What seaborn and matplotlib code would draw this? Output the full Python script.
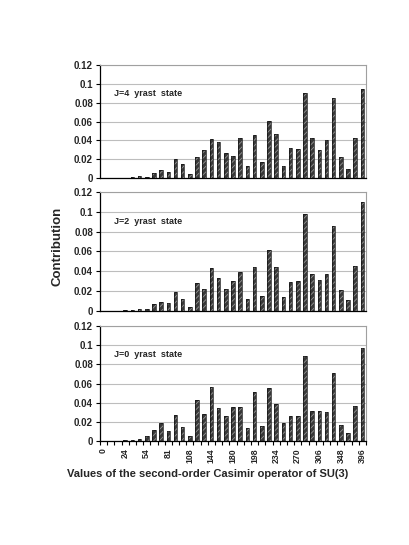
import matplotlib
matplotlib.use("Agg")
import matplotlib.pyplot as plt
import matplotlib.ticker as mticker
from matplotlib.patches import Rectangle
import seaborn as sns
import pandas as pd

sns.set_theme(style="white")
plt.rcParams["font.family"] = ["Liberation Sans", "DejaVu Sans"]
plt.rcParams["font.weight"] = "bold"
plt.rcParams["hatch.linewidth"] = 0.6

# Beiträge pro SU(3)-Darstellung (37 Kategorien, sortiert nach Casimir-Wert)
contrib_j4 = [0, 0, 0.0005, 0.0005, 0.001, 0.002, 0.001, 0.005, 0.009, 0.006,
              0.020, 0.015, 0.004, 0.022, 0.030, 0.041, 0.038, 0.027, 0.023, 0.043,
              0.013, 0.046, 0.017, 0.061, 0.047, 0.013, 0.032, 0.031, 0.090, 0.042,
              0.030, 0.040, 0.085, 0.022, 0.010, 0.043, 0.095]
contrib_j2 = [0, 0.0003, 0.0004, 0.0006, 0.001, 0.002, 0.002, 0.007, 0.009, 0.008,
              0.019, 0.012, 0.004, 0.028, 0.022, 0.043, 0.033, 0.022, 0.030, 0.039,
              0.012, 0.044, 0.015, 0.062, 0.044, 0.014, 0.029, 0.030, 0.098, 0.037,
              0.031, 0.037, 0.086, 0.021, 0.011, 0.045, 0.110]
contrib_j0 = [0, 0, 0.0003, 0.001, 0.001, 0.002, 0.005, 0.011, 0.019, 0.010,
              0.027, 0.015, 0.005, 0.043, 0.028, 0.056, 0.034, 0.026, 0.036, 0.035,
              0.014, 0.051, 0.016, 0.055, 0.039, 0.019, 0.026, 0.026, 0.089, 0.031,
              0.031, 0.030, 0.071, 0.017, 0.008, 0.037, 0.097]

# sichtbare Achsenbeschriftungen (jede dritte Kategorie)
casimir_labels = ["0", "24", "54", "81", "108", "144", "180", "198",
                  "234", "270", "306", "348", "396"]
label_step = 3

states = ["J=4  yrast  state", "J=2  yrast  state", "J=0  yrast  state"]
series = [contrib_j4, contrib_j2, contrib_j0]

frames = []
for name, vals in zip(states, series):
    frames.append(pd.DataFrame({"state": name, "idx": range(len(vals)), "contribution": vals}))
df = pd.concat(frames, ignore_index=True)
n_cat = len(contrib_j0)

fig = plt.figure(figsize=(4.09, 5.45), dpi=100)
boxes = [(0.2445, 0.6734, 0.6505, 0.2073),
         (0.2445, 0.4294, 0.6505, 0.2183),
         (0.2445, 0.1908, 0.6505, 0.2110)]

axes = []
for i, (name, box) in enumerate(zip(states, boxes)):
    ax = fig.add_axes(box)
    sub = df[df["state"] == name]
    sns.barplot(data=sub, x="idx", y="contribution", ax=ax, color="#383838",
                width=0.5, errorbar=None, saturation=1)
    for p in list(ax.patches):
        p.set_hatch("//////")
        p.set_edgecolor("#959595")
        p.set_linewidth(0)
        ax.add_patch(Rectangle(p.get_xy(), p.get_width(), p.get_height(),
                               fill=False, edgecolor="#111111", linewidth=0.5))

    ax.set_xlim(-0.5, n_cat - 0.5)
    ax.set_ylim(0, 0.12)
    ax.set_yticks([0, 0.02, 0.04, 0.06, 0.08, 0.1, 0.12])
    ax.yaxis.set_major_formatter(mticker.FuncFormatter(lambda v, _: f"{v:.2f}".rstrip("0").rstrip(".")))
    ax.grid(axis="y", color="#bdbdbd", linewidth=0.8)
    ax.set_axisbelow(True)
    ax.tick_params(axis="y", labelsize=7, length=3, width=0.8, color="black",
                   direction="out", left=True, pad=2)
    for s in ["top", "right"]:
        ax.spines[s].set_color("#a0a0a0")
        ax.spines[s].set_linewidth(0.8)
    for s in ["left", "bottom"]:
        ax.spines[s].set_color("black")
        ax.spines[s].set_linewidth(0.9)

    ax.set_xlabel("")
    ax.set_ylabel("")
    if i < 2:
        ax.set_xticks([])
    else:
        ax.set_xticks(range(0, n_cat, label_step))
        ax.set_xticklabels(casimir_labels, rotation=90, fontsize=6.3)
        ax.set_xticks([k - 0.5 for k in range(n_cat + 1)], minor=True)
        ax.tick_params(axis="x", which="major", length=0, pad=5)
        ax.tick_params(axis="x", which="minor", length=3, width=0.8,
                       color="black", direction="out", bottom=True)
    ax.text(0.054, 0.09, name, transform=ax.get_yaxis_transform(),
            fontsize=6.5, fontweight="bold", ha="left", va="center")
    axes.append(ax)

fig.text(0.141, 0.548, "Contribution", rotation=90, fontsize=9.5,
         fontweight="bold", ha="center", va="center")
fig.text(0.508, 0.13, "Values of the second-order Casimir operator of SU(3)",
         fontsize=8, fontweight="bold", ha="center", va="center")

fig.savefig("out.png", dpi=100)
